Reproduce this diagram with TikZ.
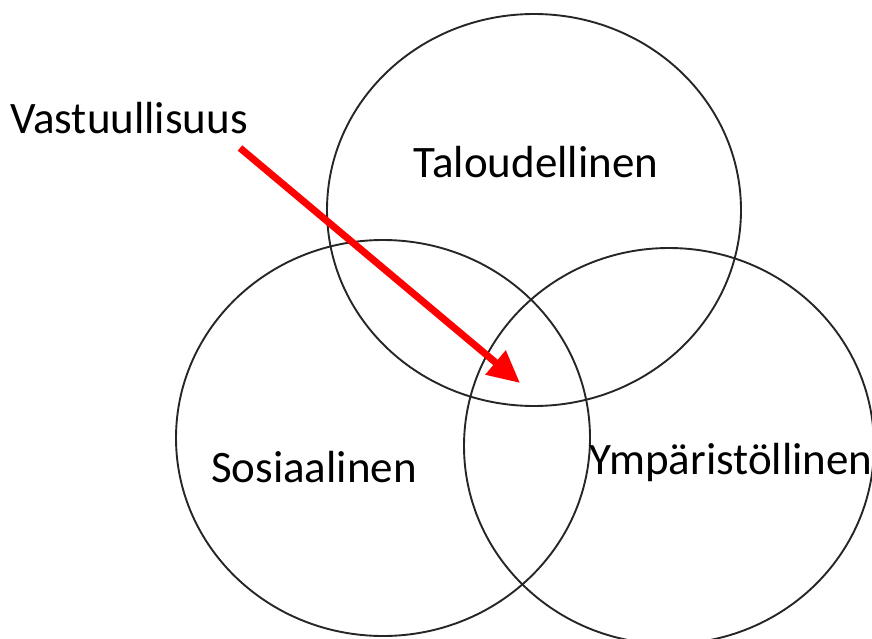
\documentclass[tikz,border=0pt]{standalone}
\usepackage{fontspec}
\setmainfont{Carlito}
\usetikzlibrary{arrows.meta,positioning}

\begin{document}
\begin{tikzpicture}[x=1pt,y=-1pt,
  lbl/.style={font=\fontsize{45}{50}\selectfont,inner sep=0pt},
  ring/.style={line width=1.9pt,black!85}]
\useasboundingbox (0,0) rectangle (872,639);

% Draw the three circles
\draw[ring] (534,210) ellipse [x radius=207,y radius=196];
\draw[ring] (383,438) ellipse [x radius=207,y radius=198];
\draw[ring] (669,446) ellipse [x radius=205,y radius=198];

% Labels
\node[lbl] (talous) at (536,162) {Taloudellinen};
\node[lbl] (sosiaali) at (314,467) {Sosiaalinen};
\node[lbl] (ymparisto) at (731,462) {Ympäristöllinen};
\node[lbl] (vastuu) at (129,118) {Vastuullisuus};

% Draw the arrow into the middle
\coordinate (start) at (240,148);
\coordinate (tip) at (520,383);
\draw[-{Triangle[length=32pt,width=30pt]}, red, line width=7pt] (start) -- (tip);
\end{tikzpicture}
\end{document}
